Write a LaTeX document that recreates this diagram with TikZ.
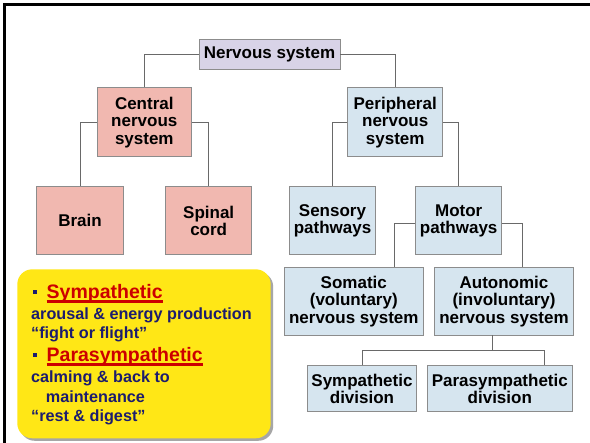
\documentclass[tikz,border=0pt]{standalone}
\usepackage{fontspec}
\setmainfont{Liberation Sans}
\definecolor{pinkbox}{RGB}{241,184,176}
\definecolor{bluebox}{RGB}{214,229,239}
\definecolor{lavbox}{RGB}{216,211,231}
\definecolor{boxline}{RGB}{140,140,140}
\definecolor{connline}{RGB}{105,105,105}
\definecolor{yel}{RGB}{255,231,22}
\definecolor{navy}{RGB}{28,28,110}
\definecolor{redhead}{RGB}{204,0,0}
\tikzset{
  box/.style={draw=boxline, line width=0.9pt, inner sep=0pt, align=center,
    font=\bfseries\fontsize{17}{17.5}\selectfont},
  conn/.style={draw=connline, line width=1pt},
  bodytxt/.style={anchor=base west, inner sep=0pt, text=navy,
    font=\bfseries\fontsize{16.2}{18}\selectfont},
  headtxt/.style={anchor=base west, inner sep=0pt, text=redhead,
    font=\bfseries\fontsize{19.5}{21}\selectfont},
  uline/.style={draw=redhead, line width=2.5pt},
  bulletsq/.style={fill=navy, minimum size=4pt, inner sep=0pt},
}
\begin{document}
\begin{tikzpicture}[x=1pt,y=-1pt]
\useasboundingbox (0,0) rectangle (590,443);
\fill[white] (0,0) rectangle (590,443);
% frame
\fill[black] (3,3.5) rectangle (590,6.5);
\fill[black] (3,3.5) rectangle (6.3,443);

% nodes
\node[box, fill=lavbox, minimum width=141pt, minimum height=30pt] (ns) at (269.5,54.3) {Nervous system};
\node[box, fill=pinkbox, minimum width=94.7pt, minimum height=69pt] (cns) at (144.3,122.2) {Central\\nervous\\system};
\node[box, fill=bluebox, minimum width=95pt, minimum height=69pt] (pns) at (395.2,122.3) {Peripheral\\nervous\\system};
\node[box, fill=pinkbox, minimum width=86.6pt, minimum height=68.3pt] (brain) at (80,220.8) {Brain};
\node[box, fill=pinkbox, minimum width=86pt, minimum height=68.3pt] (spinal) at (208.7,220.8) {Spinal\\cord};
\node[box, fill=bluebox, minimum width=86.4pt, minimum height=68.3pt] (sensory) at (332.5,220.8) {Sensory\\pathways};
\node[box, fill=bluebox, minimum width=86pt, minimum height=68.3pt] (motor) at (458.7,220.8) {Motor\\pathways};
\node[box, fill=bluebox, minimum width=139pt, minimum height=67.7pt] (somatic) at (353.8,301.2) {Somatic\\(voluntary)\\nervous system};
\node[box, fill=bluebox, minimum width=138.6pt, minimum height=67.7pt] (autonomic) at (504,301.2) {Autonomic\\(involuntary)\\nervous system};
\node[box, fill=bluebox, minimum width=108.6pt, minimum height=45.7pt] (symdiv) at (362,388.8) {Sympathetic\\division};
\node[box, fill=bluebox, minimum width=145pt, minimum height=45.7pt] (paradiv) at (499.8,388.8) {Parasympathetic\\division};

% connectors
\draw[conn] (ns.west) -| (cns.north);
\draw[conn] (ns.east) -| (pns.north);
\draw[conn] (cns.west) -| (brain.north);
\draw[conn] (cns.east) -| (spinal.north);
\draw[conn] (pns.west) -| (sensory.north);
\draw[conn] (pns.east) -| (motor.north);
\draw[conn] ([yshift=-2.5pt]motor.west) -| ([xshift=40.5pt]somatic.north);
\draw[conn] ([yshift=-2.5pt]motor.east) -| ([xshift=18.7pt]autonomic.north);
\coordinate (aj) at (492.7,350.3);
\coordinate (bl) at (362,350.3);
\coordinate (br) at (544.3,350.3);
\draw[conn] ([xshift=-11.3pt]autonomic.south) -- (aj);
\draw[conn] (symdiv.north) -- (bl) -- (br) -- ([xshift=44.5pt]paradiv.north);

% yellow box
\fill[gray!70, rounded corners=15pt] (19.8,271.8) rectangle (273.2,440.8);
\fill[yel, rounded corners=15pt] (17.3,269.3) rectangle (270.7,438.3);

\node[bulletsq] (b1) at (34.7,291.7) {};
\node[headtxt] (h1) at (46.5,298.6) {Sympathetic};
\draw[uline] ([yshift=-2.7pt]h1.base west) -- ([yshift=-2.7pt]h1.base east);
\node[bodytxt] (t1) at (31,320) {arousal \& energy production};
\node[bodytxt] (t2) at (31,338.5) {“fight or flight”};
\node[bulletsq] (b2) at (34.7,355) {};
\node[headtxt] (h2) at (46.5,361.7) {Parasympathetic};
\draw[uline] ([yshift=-2.7pt]h2.base west) -- ([yshift=-2.7pt]h2.base east);
\node[bodytxt] (t3) at (31,382.7) {calming \& back to};
\node[bodytxt] (t4) at (45.7,402.7) {maintenance};
\node[bodytxt] (t5) at (31,421.7) {“rest \& digest”};
\end{tikzpicture}
\end{document}
